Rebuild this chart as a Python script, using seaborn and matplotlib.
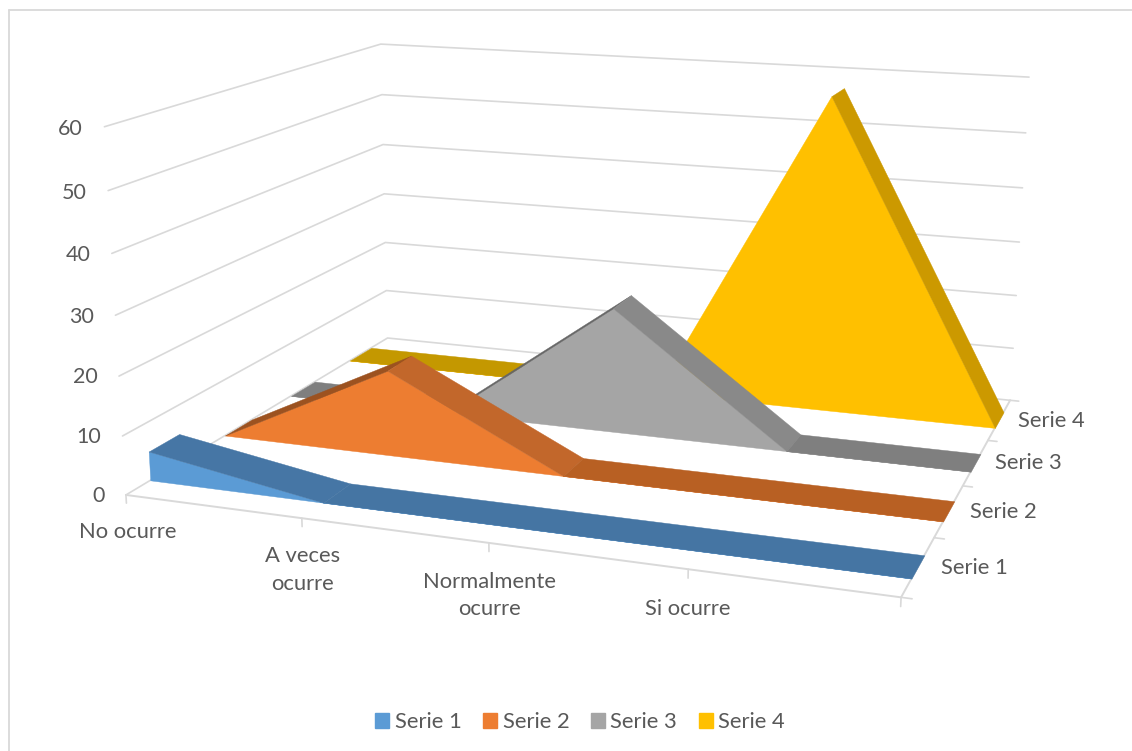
import numpy as np
import pandas as pd
import seaborn as sns
import matplotlib.pyplot as plt
from matplotlib.lines import Line2D
from matplotlib.patches import Patch
from mpl_toolkits.mplot3d import proj3d
from mpl_toolkits.mplot3d.art3d import Poly3DCollection

categories = ['No ocurre', 'A veces\nocurre', 'Normalmente\nocurre', 'Si ocurre', '']
series_names = ['Serie 1', 'Serie 2', 'Serie 3', 'Serie 4']
serie_1 = [5, 0, 0, 0, 0]
serie_2 = [0, 15, 0, 0, 0]
serie_3 = [0, 0, 22.5, 0, 0]
serie_4 = [0, 0, 0, 57.5, 0]
value_ticks = [0, 10, 20, 30, 40, 50, 60]

front_colors = ['#5B9BD5', '#ED7D31', '#A5A5A5', '#FFC000']
# the rising side of Serie 4 stays hidden behind its front face
rise_colors = ['#41719C', '#9C5220', '#666666', None]
flat_colors = ['#4575A3', '#B86023', '#7F7F7F', '#C49800']
fall_colors = ['#4676A5', '#C2672B', '#898989', '#CC9900']
grid_color = '#D9D9D9'
text_color = '#595959'

df = pd.DataFrame({'Categoria': range(5), 'Serie 1': serie_1, 'Serie 2': serie_2,
                   'Serie 3': serie_3, 'Serie 4': serie_4})

sns.set_theme(style='white', font='Lato')

W, H = 1132, 751
fig = plt.figure(figsize=(W / 100, H / 100), dpi=100)
side = W / H
ax = fig.add_axes([0, (1 - side) / 2, 1, side], projection='3d', computed_zorder=False)
ax.set_axis_off()
ax.apply_aspect()

# camera: fit the projection to where the box corners sit in the picture
world = np.array([(0, 0, 0), (4, 0, 0), (4, 4, 0), (0, 4, 0), (0, 4, 60), (4, 4, 60), (0, 0, 60),
                  (0, 4, 50), (4, 4, 50), (0, 0, 50), (0, 0, 10), (0, 0, 20),
                  (1, 0, 0), (2, 0, 0), (3, 0, 0)], dtype=float)
pixels = np.array([(126, 494), (901, 596), (1010, 400), (388, 338), (381, 44), (1029, 77), (105, 127),
                   (381, 95), (1026, 133), (108, 190), (122, 436), (119, 376),
                   (302, 518), (489, 545), (688, 570)], dtype=float)
view = ax.transData.inverted().transform(np.c_[pixels[:, 0], H - pixels[:, 1]])
rows, rhs = [], []
for (x, y, z), (u, v) in zip(world, view):
    rows.append([x, y, z, 1, 0, 0, 0, 0, -u * x, -u * y, -u * z])
    rows.append([0, 0, 0, 0, x, y, z, 1, -v * x, -v * y, -v * z])
    rhs += [u, v]
p = np.linalg.lstsq(np.array(rows), np.array(rhs), rcond=None)[0]
M = np.array([p[:4], p[4:8], [0, -0.001, 0, 0], [p[8], p[9], p[10], 1]])
ax.get_proj = lambda: M


def put_text(x, y, z, label, size=15.8, **kw):
    # plain 2D text at the projected spot
    px, py, _ = proj3d.proj_transform(x, y, z, M)
    ax.text2D(px, py, label, transform=ax.transData, fontsize=size, color=text_color, **kw)


# walls and floor
for val in value_ticks:
    ax.plot([0, 0, 4], [0, 4, 4], [val, val, val], color=grid_color, lw=1.2, zorder=1)
    put_text(-0.125, 0, val - 0.6, str(val), size=15.5, ha='right', va='center')
ax.plot([0, 4, 4], [0, 0, 4], [0, 0, 0], color=grid_color, lw=1.4, zorder=1)
for i, cat in enumerate(categories):
    ax.plot([i, i], [0, 0], [0, -1.4], color=grid_color, lw=1.2, zorder=1)
    put_text(i, 0, -4.7, cat, ha='center', va='top', linespacing=1.47)
for j in range(5):
    ax.plot([4, 4.05], [j, j], [0, 0], color=grid_color, lw=1.2, zorder=1)
for j, name in enumerate(series_names):
    put_text(4.105, j + 0.5, 0.2, name, ha='left', va='center')

# series, back to front
order = 10
band = (0.3, 0.69)
for j in [3, 2, 1, 0]:
    vals = df[series_names[j]].to_numpy(dtype=float)
    y0, y1 = j + band[0], j + band[1]
    xs = df['Categoria'].to_numpy()
    front = [(x, y0, val) for x, val in zip(xs, vals)] + [(xs[-1], y0, 0), (xs[0], y0, 0)]
    ax.add_collection3d(Poly3DCollection([front], facecolor=front_colors[j], edgecolor=front_colors[j],
                                         linewidth=0.3, zorder=order))
    order += 1
    # top strip, neighbouring segments with the same slope go in one polygon
    i = 0
    while i < len(xs) - 1:
        step = np.sign(vals[i + 1] - vals[i])
        k = i + 1
        while k < len(xs) - 1 and np.sign(vals[k + 1] - vals[k]) == step:
            k += 1
        col = {1: rise_colors, 0: flat_colors, -1: fall_colors}[int(step)][j]
        if col is not None:
            top = [(xs[n], y0, vals[n]) for n in range(i, k + 1)] + [(xs[n], y1, vals[n]) for n in range(k, i - 1, -1)]
            ax.add_collection3d(Poly3DCollection([top], facecolor=col, edgecolor=col, linewidth=0.3, zorder=order))
            order += 1
        i = k

handles = [Patch(color=c) for c in front_colors]
fig.legend(handles, series_names, loc='center', bbox_to_anchor=(580 / W, 1 - 722 / H), ncol=4, frameon=False,
           fontsize=15.8, handlelength=0.64, handleheight=0.64, handletextpad=0.25, columnspacing=0.98,
           labelcolor=text_color)

# chart frame
fig.add_artist(Line2D([9 / W, 9 / W], [0, 1 - 10 / H], color=grid_color, lw=1.3))
fig.add_artist(Line2D([9 / W, 1], [1 - 10 / H, 1 - 10 / H], color=grid_color, lw=1.3))

fig.savefig('out.png', dpi=100, facecolor='white')
